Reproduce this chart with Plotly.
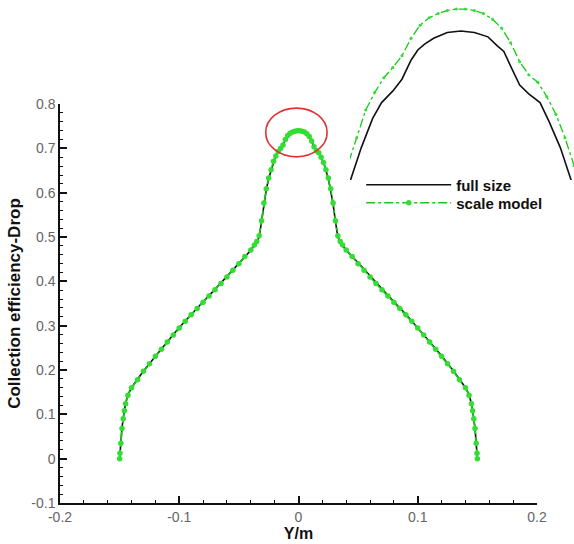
import plotly.graph_objects as go

# ---------------- data ----------------
full_x = [-0.150, -0.1495, -0.148, -0.146, -0.144, -0.142, -0.138, -0.130, -0.120, -0.110,
          -0.100, -0.090, -0.080, -0.070, -0.060, -0.050, -0.040, -0.035, -0.033, -0.031,
          -0.029, -0.027, -0.025, -0.022, -0.0195, -0.0175, -0.015, -0.013, -0.011, -0.0095,
          -0.008, -0.006, -0.003, 0.0,
          0.003, 0.006, 0.008, 0.0095, 0.011, 0.013, 0.015, 0.0175, 0.0195, 0.022,
          0.025, 0.027, 0.029, 0.031, 0.033, 0.035, 0.040, 0.050, 0.060, 0.070,
          0.080, 0.090, 0.100, 0.110, 0.120, 0.130, 0.138, 0.142, 0.144, 0.146,
          0.148, 0.1495, 0.150]
full_y = [0.000, 0.020, 0.070, 0.110, 0.135, 0.150, 0.168, 0.198, 0.232, 0.264,
          0.296, 0.326, 0.354, 0.382, 0.412, 0.442, 0.470, 0.488, 0.500, 0.535,
          0.575, 0.607, 0.632, 0.660, 0.680, 0.691, 0.699, 0.707, 0.720, 0.727,
          0.731, 0.735, 0.739, 0.740,
          0.739, 0.736, 0.730, 0.726, 0.716, 0.703, 0.697, 0.691, 0.678, 0.660,
          0.632, 0.607, 0.575, 0.535, 0.500, 0.488, 0.470, 0.442, 0.412, 0.382,
          0.354, 0.326, 0.296, 0.264, 0.232, 0.198, 0.168, 0.150, 0.135, 0.110,
          0.070, 0.020, 0.000]

scale_x = [-0.150, -0.1497, -0.149, -0.148, -0.147, -0.146, -0.145, -0.143, -0.140, -0.135,
           -0.130, -0.125, -0.120, -0.115, -0.110, -0.105, -0.100, -0.095, -0.090, -0.085,
           -0.080, -0.075, -0.070, -0.065, -0.060, -0.055, -0.050, -0.045, -0.040, -0.037,
           -0.035, -0.033, -0.031, -0.029, -0.027, -0.025, -0.023, -0.021, -0.019, -0.017,
           -0.015, -0.013, -0.011, -0.009, -0.007, -0.005, -0.003, -0.001,
           0.001, 0.003, 0.005, 0.007, 0.009, 0.011, 0.013, 0.015, 0.017, 0.019,
           0.021, 0.023, 0.025, 0.027, 0.029, 0.031, 0.033, 0.035, 0.037, 0.040,
           0.045, 0.050, 0.055, 0.060, 0.065, 0.070, 0.075, 0.080, 0.085, 0.090,
           0.095, 0.100, 0.105, 0.110, 0.115, 0.120, 0.125, 0.130, 0.135, 0.140,
           0.143, 0.145, 0.146, 0.147, 0.148, 0.149, 0.1497, 0.150]
scale_y = [0.000, 0.012, 0.035, 0.068, 0.090, 0.108, 0.124, 0.143, 0.160, 0.178,
           0.197, 0.214, 0.231, 0.247, 0.263, 0.279, 0.295, 0.310, 0.325, 0.339,
           0.353, 0.367, 0.381, 0.395, 0.410, 0.425, 0.440, 0.456, 0.471, 0.482,
           0.490, 0.503, 0.537, 0.577, 0.609, 0.633, 0.652, 0.671, 0.683, 0.693,
           0.700, 0.708, 0.720, 0.729, 0.734, 0.737, 0.739, 0.740,
           0.740, 0.739, 0.737, 0.733, 0.727, 0.717, 0.704, 0.695, 0.690, 0.680,
           0.668, 0.652, 0.633, 0.609, 0.577, 0.537, 0.503, 0.490, 0.482, 0.471,
           0.456, 0.440, 0.425, 0.410, 0.395, 0.381, 0.367, 0.353, 0.339, 0.325,
           0.310, 0.295, 0.279, 0.263, 0.247, 0.231, 0.214, 0.197, 0.178, 0.160,
           0.143, 0.124, 0.108, 0.090, 0.068, 0.035, 0.012, 0.000]

x_ticks = [-0.2, -0.1, 0, 0.1, 0.2]
x_tick_text = ["-0.2", "-0.1", "0", "0.1", "0.2"]
y_ticks = [-0.1, 0, 0.1, 0.2, 0.3, 0.4, 0.5, 0.6, 0.7, 0.8]
y_tick_text = ["-0.1", "0", "0.1", "0.2", "0.3", "0.4", "0.5", "0.6", "0.7", "0.8"]

series_names = ["full size", "scale model"]

# ---------------- style ----------------
BLACK = "#111111"
GREEN_LINE = "#11cc11"
GREEN_MARK = "#33dd33"
FONT = "Liberation Sans, Arial, sans-serif"

fig = go.Figure()

# main plot
fig.add_trace(go.Scatter(x=full_x, y=full_y, mode="lines", name=series_names[0],
                         line=dict(color=BLACK, width=1.6), xaxis="x", yaxis="y",
                         legend="legend"))
fig.add_trace(go.Scatter(x=scale_x, y=scale_y, mode="lines+markers", name=series_names[1],
                         line=dict(color=GREEN_LINE, width=1.6, dash="dashdot"),
                         marker=dict(symbol="circle", size=5.5, color=GREEN_MARK,
                                     line=dict(width=0)),
                         xaxis="x", yaxis="y", legend="legend2"))

# inset (magnified peak)
fig.add_trace(go.Scatter(x=full_x, y=full_y, mode="lines", showlegend=False,
                         line=dict(color=BLACK, width=1.6), xaxis="x2", yaxis="y2"))
fig.add_trace(go.Scatter(x=scale_x, y=scale_y, mode="lines+markers", showlegend=False,
                         line=dict(color=GREEN_LINE, width=1.3, dash="dashdot"),
                         marker=dict(symbol="circle", size=3, color=GREEN_MARK,
                                     line=dict(width=0)),
                         xaxis="x2", yaxis="y3"))

axis_common = dict(
    showgrid=False, zeroline=False, showline=True, linecolor=BLACK, linewidth=1.5,
    ticks="inside", ticklen=7, tickwidth=1.5, tickcolor=BLACK, automargin=False,
    tickfont=dict(family=FONT, size=14, color="#666666"),
    minor=dict(ticks="inside", ticklen=3.5, tickwidth=1, tickcolor=BLACK, dtick=0.02),
)

inset_axis = dict(visible=False, showgrid=False, zeroline=False, fixedrange=True)

legend_common = dict(xanchor="left", yanchor="middle", bgcolor="rgba(0,0,0,0)",
                     borderwidth=0, itemwidth=85,
                     font=dict(family=FONT, size=15, color=BLACK, weight="bold"))

fig.update_layout(
    width=574, height=544,
    margin=dict(l=60, r=0, t=5, b=41),
    paper_bgcolor="white", plot_bgcolor="rgba(0,0,0,0)",
    font=dict(family=FONT, color=BLACK),
    xaxis=dict(domain=[0, 0.928], range=[-0.2, 0.2], tickvals=x_ticks, ticktext=x_tick_text,
               title=dict(text="<b>Y/m</b>", font=dict(family=FONT, size=16, color=BLACK),
                          standoff=4),
               anchor="y", **axis_common),
    yaxis=dict(domain=[0, 0.801], range=[-0.1, 0.8], tickvals=y_ticks, ticktext=y_tick_text,
               title=dict(text="<b>Collection efficiency-Drop</b>",
                          font=dict(family=FONT, size=17, color=BLACK), standoff=6),
               anchor="x", **axis_common),
    xaxis2=dict(domain=[0.564, 1.0], range=[-0.0245, 0.0250], anchor="y2", **inset_axis),
    yaxis2=dict(domain=[0.6486, 1.0], range=[0.638, 0.7578], anchor="x2", **inset_axis),
    yaxis3=dict(range=[0.623, 0.7428], overlaying="y2", anchor="x2", **inset_axis),
    legend=dict(x=0.586, y=0.6386, **legend_common),
    legend2=dict(x=0.586, y=0.6024, **legend_common),
    showlegend=True,
    shapes=[dict(type="circle", xref="x", yref="y", x0=-0.0275, x1=0.024, y0=0.681, y1=0.791,
                 line=dict(color="#dd3333", width=1.6))],
)

fig.write_html("out.html")
